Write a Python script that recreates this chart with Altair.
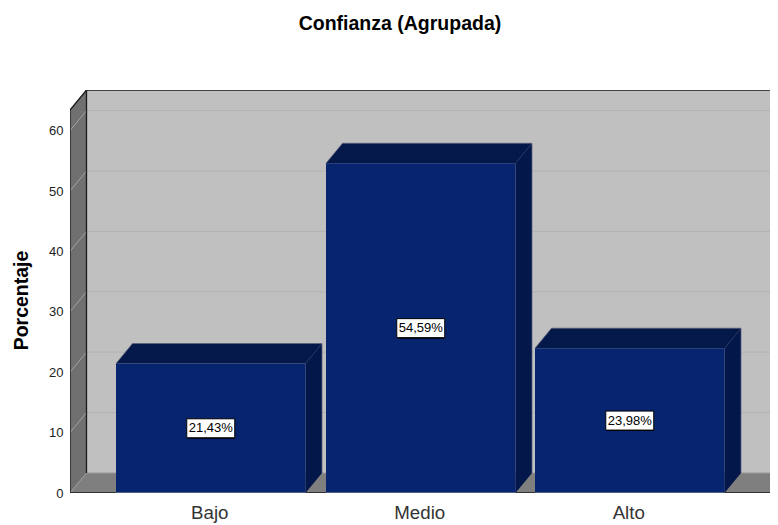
import altair as alt
import pandas as pd

categories = ["Bajo", "Medio", "Alto"]
percentages = [21.43, 54.59, 23.98]
value_labels = ["21,43%", "54,59%", "23,98%"]
y_ticks = [0, 10, 20, 30, 40, 50, 60]

FONT = "Liberation Sans"
PX_PER_UNIT = 6.04
W, H = 700, 403
DX = 16.5                  # horizontal depth of the box
DY = 20 / PX_PER_UNIT      # vertical depth of the box, in percent units
Y_MAX = H / PX_PER_UNIT
FLOOR_END = 700
BAR_STARTS = [46, 256, 465]
BAR_W = 189.5
centers = [s + BAR_W / 2 for s in BAR_STARTS]
label_expr = "".join(f"datum.value=={c}?'{n}':" for c, n in zip(centers, categories)) + "''"

xs = alt.Scale(domain=[0, W], nice=False, zero=False)
ys = alt.Scale(domain=[0, Y_MAX], nice=False, zero=False)
x_axis = alt.Axis(
    values=centers, labelExpr=label_expr, title=None, domain=False, ticks=False, grid=False,
    labelFont=FONT, labelFontSize=18.7, labelColor="#333333", labelPadding=10, labelOffset=-1.5,
    labelOverlap=False, labelFlush=False,
)
y_axis = alt.Axis(
    values=y_ticks, title="Porcentaje", domain=False, ticks=False, grid=False,
    labelFont=FONT, labelFontSize=13, labelColor="#222222", labelPadding=7,
    titleFont=FONT, titleFontSize=19.5, titleFontWeight="bold", titleColor="#000000",
    titleX=-39, titleY=210, format="d",
)
X = alt.X("x:Q", scale=xs, axis=x_axis)
Y = alt.Y("y:Q", scale=ys, axis=y_axis)
Y2 = alt.Y2("y2:Q")


def area(rows, color):
    df = pd.DataFrame(rows, columns=["x", "y", "y2"])
    return alt.Chart(df).mark_area(color=color, clip=True, interpolate="linear").encode(x=X, y=Y, y2=Y2)


def line(rows, color, width=1.0):
    df = pd.DataFrame(rows, columns=["x", "y", "o"])
    return alt.Chart(df).mark_line(color=color, strokeWidth=width, clip=True).encode(
        x=X, y=Y, detail="o:N", order="i:Q"
    ).transform_window(i="row_number()", groupby=["o"])


wall = area([(DX, DY, Y_MAX), (W, DY, Y_MAX)], "#c0c0c0")
left_wall = area([(0, 0, Y_MAX - DY), (DX, DY, Y_MAX)], "#707070")
floor = area(
    [(0, 0, 0), (DX, 0, DY), (FLOOR_END, 0, DY), (FLOOR_END + DX, DY, DY)], "#7f7f7f"
)

grid_back, grid_side = [], []
for t in y_ticks[1:]:
    grid_back += [(DX, t + DY, t), (W, t + DY, t)]
    grid_side += [(0, t, t), (DX, t + DY, t)]
grid_back_l = line(grid_back, "#b2b2b2")
grid_side_l = line(grid_side, "#a3a3a3")

edges = line(
    [
        (0, 0, "a"), (0, Y_MAX - DY, "a"), (DX, Y_MAX, "a"), (W, Y_MAX, "a"),
        (DX, DY, "b"), (DX, Y_MAX, "b"),
        (0, 0, "c"), (FLOOR_END, 0, "c"), (FLOOR_END + DX, DY, "c"),
    ],
    "#1a1a1a",
    1.3,
)
floor_edge = line([(0, 0, "a"), (DX, DY, "a"), (DX, DY, "b"), (W, DY, "b")], "#9a9a9a")

bars = []
boxes = []
for start, v, lab in zip(BAR_STARTS, percentages, value_labels):
    end = start + BAR_W
    top = area(
        [(start, v, v), (start + DX, v, v + DY), (end, v, v + DY), (end + DX, v + DY, v + DY)],
        "#05184a",
    )
    side = area([(end, 0, v), (end + DX, DY, v + DY)], "#04174a")
    front = area([(start, 0, v), (end, 0, v)], "#07256e")
    outline = line(
        [(start, v, "a"), (start + DX, v + DY, "a"), (end + DX, v + DY, "a"), (end + DX, DY, "a")],
        "#5a6078",
        0.7,
    )
    base = line([(start, 0, "a"), (end, 0, "a")], "#9a9a9a", 1.0)
    bars += [top, side, front, outline, base]

    cx = start + BAR_W / 2
    cy = v / 2
    half_w, half_h = 24, 9.5 / PX_PER_UNIT
    box_df = pd.DataFrame([{"x": cx - half_w, "x2": cx + half_w, "y": cy - half_h, "y2": cy + half_h}])
    shadow = alt.Chart(box_df).mark_rect(color="#000000", xOffset=1, yOffset=1).encode(
        x=X, x2="x2:Q", y=Y, y2=Y2
    )
    box = alt.Chart(box_df).mark_rect(fill="#ffffff", stroke="#000000", strokeWidth=1).encode(
        x=X, x2="x2:Q", y=Y, y2=Y2
    )
    txt = alt.Chart(pd.DataFrame([{"x": cx, "y": cy, "t": lab}])).mark_text(
        font=FONT, fontSize=13, color="#000000", align="center", baseline="middle"
    ).encode(x=X, y=Y, text="t:N")
    boxes += [shadow, box, txt]

chart = alt.layer(
    wall, left_wall, floor, grid_back_l, grid_side_l, floor_edge, edges, *bars, *boxes
).properties(
    width=W,
    height=H,
    autosize=alt.AutoSizeParams(type="none"),
    padding={"left": 62, "top": 82, "right": 0, "bottom": 30},
    title=alt.TitleParams(
        "Confianza (Agrupada)", font=FONT, fontSize=19.5, fontWeight="bold", color="#000000",
        anchor="middle", frame="group", dx=-20, offset=56,
    ),
    background="#ffffff",
).configure_view(stroke=None)

chart.save("out.html", embed_options={"renderer": "svg", "actions": False})
